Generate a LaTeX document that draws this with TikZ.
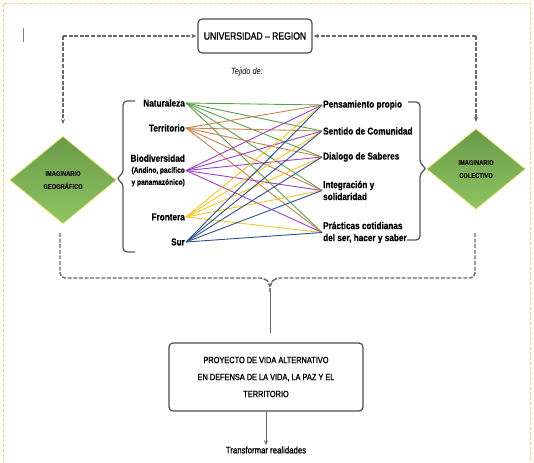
\documentclass[tikz,border=0pt]{standalone}
\usepackage{fontspec}
\setmainfont{Liberation Sans}[FakeStretch=0.82]
\newfontfamily\heavyfont{Liberation Sans}[FakeStretch=0.82, FakeBold=1.2, Ligatures=TeX]
\newfontfamily\lblfont{Liberation Sans}[FakeStretch=0.82, FakeBold=0.5, Ligatures=TeX]
\usetikzlibrary{shapes.geometric,arrows.meta}
\definecolor{cgreen}{HTML}{5BA04A}
\definecolor{cbrown}{HTML}{C4824E}
\definecolor{cpurple}{HTML}{9B3FC8}
\definecolor{cyellow}{HTML}{F2C623}
\definecolor{cblue}{HTML}{2E4F8C}
\definecolor{dgray}{HTML}{686868}
\definecolor{bordery}{HTML}{F3D77A}
\definecolor{dtop}{HTML}{6A9A48}
\definecolor{dbot}{HTML}{8FC463}
\definecolor{dedge}{HTML}{D2DA4C}
\tikzset{
  lbl/.style={font=\lblfont\bfseries\fontsize{10}{12}\selectfont, inner sep=0pt},
  conn/.style={line width=0.9pt},
  dconn/.style={draw=dgray, line width=1.4pt, dash pattern=on 4pt off 1.6pt},
  boxnode/.style={draw=black!70, line width=1.2pt, rounded corners=4pt, align=center},
  diam/.style={diamond, aspect=1.22, inner sep=0pt, draw=dedge, line width=0.6pt,
    top color=dtop, bottom color=dbot, align=center,
    font=\heavyfont\bfseries\fontsize{7}{13}\selectfont, text=black!90},
  bracepath/.style={draw=black!65, line width=1.3pt, rounded corners=4pt},
  tip/.style={-{Stealth[length=5pt,width=4pt]}},
}
\begin{document}
\begin{tikzpicture}[x=1pt,y=-1pt]
\useasboundingbox (0,0) rectangle (534,462);
% page border
\draw[bordery, line width=0.8pt, dash pattern=on 3pt off 2pt] (3,462) -- (3,3) -- (530,3) -- (530,462);
\draw[gray, line width=0.8pt] (23,28) -- (23,42);

% top box
\node[boxnode, minimum width=114pt, minimum height=34pt, font=\heavyfont\fontsize{10.5}{12}\selectfont] (univ) at (255,36) {UNIVERSIDAD – REGION};
\node[font=\itshape\fontsize{9}{11}\selectfont, inner sep=0pt] (tej) at (247,72) {Tejido de:};

% diamonds
\node[diam, minimum width=106pt, minimum height=87pt] (geo) at (63,180) {IMAGINARIO\\GEOGRÁFICO};
\node[diam, minimum width=98pt, minimum height=80pt] (col) at (476,169) {IMAGINARIO\\COLECTIVO};

% left labels
\node[lbl, anchor=east] (nat) at (185,103) {Naturaleza};
\node[lbl, anchor=east] (ter) at (185,128) {Territorio};
\node[lbl, anchor=east, align=right] (bio) at (185,170.5) {Biodiversidad\\[-1pt]{\fontsize{8}{17}\selectfont(Andino, pacífico}\\{\fontsize{8}{17}\selectfont y panamazónico)}};
\node[lbl, anchor=east] (fro) at (185,217) {Frontera};
\node[lbl, anchor=east] (sur) at (185,242) {Sur};

% right labels
\node[lbl, anchor=west] (pen) at (323,105) {Pensamiento propio};
\node[lbl, anchor=west] (sen) at (323,131) {Sentido de Comunidad};
\node[lbl, anchor=west] (dia) at (323,157) {Dialogo de Saberes};
\node[lbl, anchor=west, align=left] (int) at (323,190.5) {Integración y\\solidaridad};
\node[lbl, anchor=west, align=left] (pra) at (323,232.5) {Prácticas cotidianas\\del ser, hacer y saber};

% connections
\foreach \l/\c in {nat/cgreen, ter/cbrown, bio/cpurple, fro/cyellow, sur/cblue}{
  \foreach \r in {pen,sen,dia,int,pra}{
    \draw[conn, \c] ([xshift=1pt]\l.east) -- ([xshift=-1pt]\r.west);
  }
}

% braces
\draw[bracepath] (135,101) -- (123,101) -- (123,174) -- (116,178.5) -- (123,183) -- (123,252) -- (135,252);
\draw[bracepath] (408,102) -- (420,102) -- (420,164) -- (427,168.5) -- (420,173) -- (420,240) -- (407,240);

% dashed feedback connectors
\coordinate (geoin) at (63,124);
\coordinate (colin) at (476,122);
\draw[dconn, tip] (univ.west -| geoin) -- (geoin);
\draw[dconn, tip, shorten >=1pt] (geoin |- univ.west) -- (univ.west);
\draw[dconn, tip] (univ.east -| colin) -- (colin);
\draw[dconn, tip, shorten >=1pt] (colin |- univ.east) -- (univ.east);

% bottom dashed brace
\coordinate (btip) at (270,292);
\draw[dconn, rounded corners=5pt] (60,233) -- (60,278) -- (265,278) -- (270,284) -- (btip);
\draw[dconn, rounded corners=5pt] (475,233) -- (475,278) -- (275,278) -- (270,284) -- (btip);

% bottom box
\node[boxnode, minimum width=194pt, minimum height=68pt, font=\heavyfont\fontsize{9}{17}\selectfont] (proy) at (266,377) {PROYECTO DE VIDA ALTERNATIVO\\EN DEFENSA DE LA VIDA, LA PAZ Y EL\\TERRITORIO};
\draw[dgray, line width=1pt, shorten >=9pt] (btip) -- (btip |- proy.north);

\node[font=\heavyfont\fontsize{9.5}{11}\selectfont, inner sep=1pt] (tra) at (266,450) {Transformar realidades};
\draw[dgray, line width=1pt, -{Stealth[length=5pt,width=4pt]}] (proy.south -| tra) -- (tra.north);
\end{tikzpicture}
\end{document}
